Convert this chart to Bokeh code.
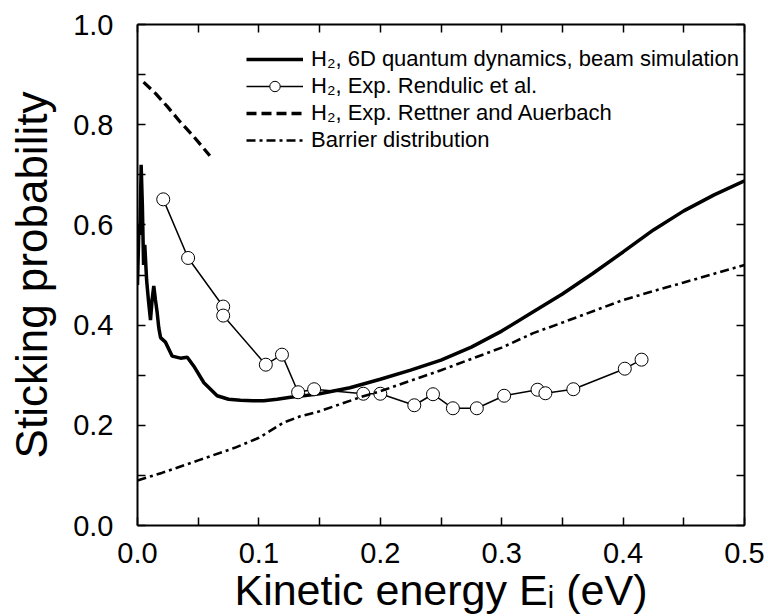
from bokeh.plotting import figure
from bokeh.models import (FixedTicker, LinearAxis, Legend, LegendItem,
                          CustomJSTickFormatter, NumeralTickFormatter, Range1d)
from bokeh.embed import file_html
from bokeh.resources import INLINE

# ---------------- data ----------------
sim_x = [0.0, 0.0012, 0.002, 0.003, 0.004, 0.005, 0.006, 0.0075, 0.009, 0.0107,
         0.012, 0.0134, 0.0148, 0.0162, 0.0175, 0.019, 0.023, 0.0286, 0.0354,
         0.041, 0.0464, 0.0547, 0.0656, 0.075, 0.0848, 0.095, 0.104, 0.115,
         0.126, 0.14, 0.15, 0.175, 0.2, 0.225, 0.25, 0.275, 0.3, 0.325, 0.35,
         0.375, 0.4, 0.425, 0.45, 0.475, 0.5]
sim_y = [0.48, 0.60, 0.58, 0.72, 0.64, 0.52, 0.56, 0.49, 0.45, 0.41,
         0.45, 0.478, 0.45, 0.425, 0.395, 0.375, 0.366, 0.338, 0.334,
         0.336, 0.318, 0.285, 0.259, 0.252, 0.250, 0.249, 0.249, 0.252,
         0.256, 0.260, 0.263, 0.275, 0.292, 0.310, 0.330, 0.356, 0.388, 0.425, 0.462,
         0.503, 0.546, 0.590, 0.628, 0.660, 0.688]

rend_x = [0.0212, 0.0417, 0.0706, 0.0706, 0.1057, 0.119, 0.1323, 0.1455, 0.186,
          0.200, 0.228, 0.2434, 0.2598, 0.2795, 0.302, 0.3295, 0.336, 0.359,
          0.4014, 0.4152]
rend_y = [0.651, 0.534, 0.437, 0.419, 0.321, 0.341, 0.266, 0.272, 0.263,
          0.263, 0.240, 0.262, 0.234, 0.234, 0.259, 0.271, 0.264, 0.272,
          0.313, 0.331]

rett_x = [0.005, 0.015, 0.025, 0.035, 0.045, 0.0596]
rett_y = [0.885, 0.862, 0.835, 0.806, 0.780, 0.738]

barr_x = [0.0, 0.02, 0.05, 0.08, 0.1, 0.12, 0.134, 0.15, 0.186, 0.2, 0.25, 0.3,
          0.326, 0.35, 0.4, 0.428, 0.45, 0.5]
barr_y = [0.09, 0.105, 0.13, 0.155, 0.175, 0.205, 0.218, 0.228, 0.258, 0.268,
          0.31, 0.355, 0.384, 0.405, 0.45, 0.470, 0.485, 0.52]

x_major = [0.0, 0.1, 0.2, 0.3, 0.4, 0.5]
x_minor = [0.05, 0.15, 0.25, 0.35, 0.45]
y_major = [0.0, 0.2, 0.4, 0.6, 0.8, 1.0]
y_minor = [0.1, 0.3, 0.5, 0.7, 0.9]

labels = ["H\u2082, 6D quantum dynamics, beam simulation",
          "H\u2082, Exp. Rendulic et al.",
          "H\u2082, Exp. Rettner and Auerbach",
          "Barrier distribution"]

FONT = "Liberation Sans"

# ---------------- figure ----------------
p = figure(width=768, height=616, x_range=Range1d(0, 0.5), y_range=Range1d(0, 1.0),
           output_backend="svg", toolbar_location=None,
           min_border_left=137, min_border_right=24, min_border_top=24,
           min_border_bottom=90)
p.grid.visible = False
p.outline_line_color = None
p.background_fill_color = "white"
p.border_fill_color = "white"

r_sim = p.line(sim_x, sim_y, line_color="black", line_width=3.5)
r_ren_line = p.line(rend_x, rend_y, line_color="black", line_width=1.5)
r_ren_pts = p.scatter(rend_x, rend_y, marker="circle", size=13,
                      fill_color="white", line_color="black", line_width=1)
r_rett = p.line(rett_x, rett_y, line_color="black", line_width=3.3, line_dash="10 5")
r_barr = p.line(barr_x, barr_y, line_color="black", line_width=2.6, line_dash="9 4 3 4")


def style_axis(ax, major, minor, show_labels):
    ax.ticker = FixedTicker(ticks=major, minor_ticks=minor)
    ax.axis_line_width = 2
    ax.axis_line_color = "black"
    ax.major_tick_in = 8
    ax.major_tick_out = 0
    ax.minor_tick_in = 8
    ax.minor_tick_out = 0
    ax.major_tick_line_width = 1.5
    ax.minor_tick_line_width = 1.5
    if show_labels:
        ax.formatter = NumeralTickFormatter(format="0.0")
        ax.major_label_text_font = FONT
        ax.major_label_text_font_size = "29px"
        ax.major_label_text_color = "black"
    else:
        ax.formatter = CustomJSTickFormatter(code="return ''")
        ax.major_label_text_font_size = "1px"
        ax.major_label_standoff = 0


xa = p.xaxis[0]
style_axis(xa, x_major, x_minor, True)
xa.major_label_standoff = 17
xa.axis_label = "Kinetic energy E\u1d62 (eV)"
xa.axis_label_text_font = FONT
xa.axis_label_text_font_size = "43px"
xa.axis_label_text_font_style = "normal"
xa.axis_label_text_color = "black"
xa.axis_label_standoff = 0

ya = p.yaxis[0]
style_axis(ya, y_major, y_minor, True)
ya.major_label_standoff = 24
ya.axis_label = "Sticking probability"
ya.axis_label_text_font = FONT
ya.axis_label_text_font_size = "44px"
ya.axis_label_text_font_style = "normal"
ya.axis_label_text_color = "black"
ya.axis_label_standoff = 14

top = LinearAxis()
style_axis(top, x_major, x_minor, False)
p.add_layout(top, "above")
right = LinearAxis()
style_axis(right, y_major, y_minor, False)
p.add_layout(right, "right")

legend = Legend(items=[
    LegendItem(label=labels[0], renderers=[r_sim]),
    LegendItem(label=labels[1], renderers=[r_ren_line, r_ren_pts]),
    LegendItem(label=labels[2], renderers=[r_rett]),
    LegendItem(label=labels[3], renderers=[r_barr]),
], location=(109, 372))
legend.border_line_color = None
legend.background_fill_alpha = 0
legend.label_text_font = FONT
legend.label_text_font_size = "22px"
legend.label_text_color = "black"
legend.glyph_width = 57
legend.glyph_height = 26
legend.label_height = 26
legend.spacing = 1
legend.padding = 0
legend.margin = 0
legend.label_standoff = 8
p.add_layout(legend)

open("out.html", "w").write(file_html(p, INLINE))
